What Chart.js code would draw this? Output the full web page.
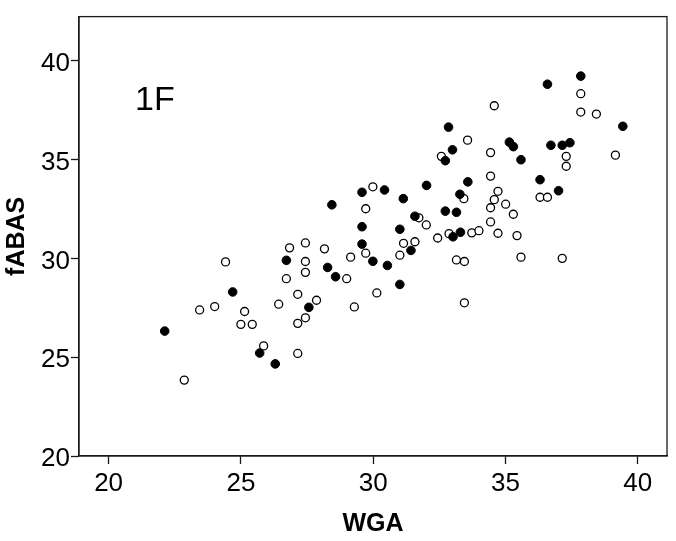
<!DOCTYPE html>
<html>
<head>
<meta charset="utf-8">
<script src="https://cdn.jsdelivr.net/npm/chart.js@4/dist/chart.umd.min.js"></script>
<style>
  html, body { margin: 0; padding: 0; background: #ffffff; }
  #wrap { width: 676px; height: 541px; }
</style>
</head>
<body>
<div id="wrap"><canvas id="c" width="676" height="541"></canvas></div>
<script>
// ---- Data ----
const panelLabel = "1F";
const xTitle = "WGA";
const yTitle = "fABAS";
const xTicks = [20, 25, 30, 35, 40];
const yTicks = [20, 25, 30, 35, 40];

// filled (black) markers
const filledWGA = [22.12, 24.69, 25.71, 26.30, 26.72, 27.57, 28.28, 28.58, 29.99, 30.54, 29.58,
  28.44, 29.58, 30.43, 29.58, 37.85, 36.59, 39.44, 32.85, 33.00, 32.73, 35.15, 35.30, 35.59,
  36.72, 37.15, 37.44, 36.31, 33.58, 32.02, 31.14, 33.28, 37.01, 32.73, 33.15, 31.58, 31.01,
  33.02, 33.30, 31.43, 31.01];
const filledFABAS = [26.32, 28.30, 25.21, 24.66, 29.90, 27.52, 29.54, 29.07, 29.85, 29.64, 30.72,
  32.71, 33.34, 33.46, 31.60, 39.22, 38.81, 36.68, 36.64, 35.49, 34.94, 35.88, 35.65, 34.99,
  35.72, 35.72, 35.85, 33.98, 33.87, 33.69, 33.02, 33.24, 33.42, 32.39, 32.33, 32.13, 31.47,
  31.09, 31.32, 30.40, 28.68];

// open (white) markers
const openWGA = [24.42, 23.44, 24.01, 25.14, 25.00, 25.43, 25.86, 22.86, 26.43, 26.72, 26.84,
  27.44, 28.16, 29.72, 27.44, 27.44, 27.15, 27.86, 27.44, 27.15, 27.15, 29.15, 29.00, 29.29,
  30.14, 29.99, 29.72, 37.85, 37.85, 38.44, 34.58, 33.57, 32.58, 34.44, 37.30, 37.30, 39.16,
  34.44, 33.43, 34.72, 34.58, 35.01, 34.44, 35.30, 36.31, 36.59, 31.73, 32.01, 34.44, 34.72,
  35.44, 31.15, 31.58, 32.44, 32.87, 33.73, 34.00, 31.01, 33.15, 33.45, 35.59, 37.15, 33.45];
const openFABAS = [29.82, 27.39, 27.56, 27.31, 26.66, 26.66, 25.57, 23.84, 27.68, 28.97, 30.53,
  30.78, 30.48, 30.26, 29.84, 29.29, 28.18, 27.88, 26.99, 26.71, 25.19, 30.06, 28.97, 27.54,
  28.25, 33.62, 32.51, 38.33, 37.40, 37.30, 37.72, 35.98, 35.16, 35.35, 35.16, 34.66, 35.22,
  34.16, 33.02, 33.39, 32.97, 32.74, 32.56, 32.23, 33.09, 33.09, 32.05, 31.69, 31.84, 31.27,
  31.15, 30.76, 30.84, 31.03, 31.25, 31.29, 31.40, 30.16, 29.92, 29.84, 30.06, 30.00, 27.75];

const X_MIN = 18.88, X_MAX = 41.11;
const Y_MIN = 20, Y_MAX = 42.23;

// ---- Build chart ----
const FONT = "'Liberation Sans', Arial, Helvetica, sans-serif";
const toPts = (xs, ys) => xs.map((x, i) => ({ x: x, y: ys[i] }));

const frame = {
  id: 'frame',
  afterDraw(chart) {
    const { ctx, chartArea: a } = chart;
    ctx.save();
    ctx.strokeStyle = '#1a1a1a';
    ctx.lineWidth = 1.3;
    ctx.strokeRect(a.left, a.top, a.right - a.left, a.bottom - a.top);
    ctx.fillStyle = '#000';
    ctx.font = '34px ' + FONT;
    ctx.textBaseline = 'alphabetic';
    ctx.textAlign = 'left';
    ctx.fillText(panelLabel, a.left + 56, a.top + 93);
    ctx.restore();
  }
};

new Chart(document.getElementById('c'), {
  type: 'scatter',
  data: {
    datasets: [
      {
        label: 'filled',
        data: toPts(filledWGA, filledFABAS),
        pointRadius: 4.3,
        pointBackgroundColor: '#000',
        pointBorderColor: '#000',
        pointBorderWidth: 1
      },
      {
        label: 'open',
        data: toPts(openWGA, openFABAS),
        pointRadius: 4,
        pointBackgroundColor: '#fff',
        pointBorderColor: '#000',
        pointBorderWidth: 1.3
      }
    ]
  },
  options: {
    responsive: false,
    devicePixelRatio: 1,
    animation: false,
    layout: { padding: { left: 0, right: 9, top: 7, bottom: 0 } },
    plugins: { legend: { display: false }, tooltip: { enabled: false } },
    scales: {
      x: {
        type: 'linear',
        min: X_MIN, max: X_MAX,
        afterBuildTicks: s => { s.ticks = xTicks.map(v => ({ value: v })); },
        afterFit: s => { s.height = 85; },
        ticks: { font: { size: 26, family: FONT }, color: '#000', padding: 4, includeBounds: false },
        grid: { display: true, drawOnChartArea: false, drawTicks: true, tickLength: 8, color: '#1a1a1a', tickWidth: 1.3 },
        border: { display: true, color: '#1a1a1a', width: 1.3 },
        title: { display: true, text: xTitle, color: '#000', font: { size: 25, weight: 'bold', family: FONT }, padding: { top: 0, bottom: 2 } }
      },
      y: {
        type: 'linear',
        min: Y_MIN, max: Y_MAX,
        afterBuildTicks: s => { s.ticks = yTicks.map(v => ({ value: v })); },
        afterFit: s => { s.width = 79; },
        ticks: { font: { size: 26, family: FONT }, color: '#000', padding: 1, labelOffset: 3, includeBounds: false },
        grid: { display: true, drawOnChartArea: false, drawTicks: true, tickLength: 8, color: '#1a1a1a', tickWidth: 1.3 },
        border: { display: true, color: '#1a1a1a', width: 1.3 },
        title: { display: true, text: yTitle, color: '#000', font: { size: 25, weight: 'bold', family: FONT }, padding: { top: 2, bottom: 0 } }
      }
    }
  },
  plugins: [frame]
});
</script>
</body>
</html>
